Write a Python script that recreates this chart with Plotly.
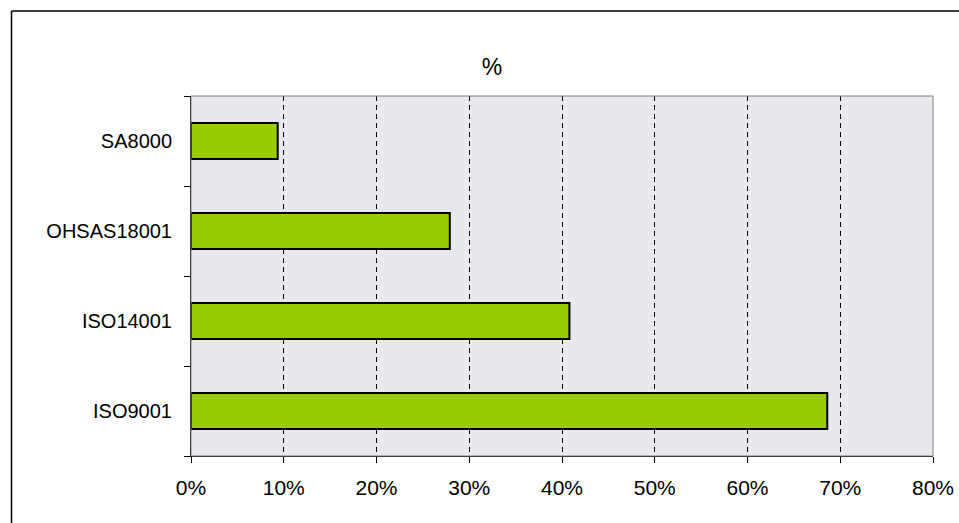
import plotly.graph_objects as go

categories = ["ISO9001", "ISO14001", "OHSAS18001", "SA8000"]
values = [68.6, 40.8, 27.9, 9.35]
x_ticks = [0, 10, 20, 30, 40, 50, 60, 70, 80]
x_tick_labels = [f"{v}%" for v in x_ticks]

W, H = 959, 523
L, R, T, B = 191, 26, 96, 67
pw, ph = W - L - R, H - T - B

def px_x(p):
    return (p - L) / pw

def px_y(p):
    return (H - B - p) / ph

fig = go.Figure()
fig.add_trace(go.Bar(
    y=categories, x=values, orientation="h",
    width=0.4,
    marker=dict(color="#99CC00", line=dict(color="#000000", width=2)),
    hoverinfo="x+y",
))

fig.update_layout(
    width=W, height=H,
    margin=dict(l=L, r=R, t=T, b=B, autoexpand=False),
    paper_bgcolor="#FFFFFF",
    plot_bgcolor="#E8E9EC",
    showlegend=False,
    font=dict(family="Liberation Sans, Arial, sans-serif", color="#000000"),
    title=dict(text="%", x=492 / W, xref="container", xanchor="center",
               y=1 - 67 / H, yref="container", yanchor="middle",
               font=dict(size=23, color="#000000")),
    xaxis=dict(
        range=[0, 80], tickvals=x_ticks, ticktext=x_tick_labels,
        showgrid=True, gridcolor="#000000", gridwidth=1, griddash="5px,4px",
        showline=True, linecolor="#000000", linewidth=1,
        ticks="outside", ticklen=6, tickcolor="#000000",
        tickfont=dict(size=21), ticklabelstandoff=7,
        zeroline=False, fixedrange=True,
    ),
    yaxis=dict(
        type="category", categoryorder="array", categoryarray=categories,
        range=[-0.5, 3.5],
        showgrid=False, showline=True, linecolor="#000000", linewidth=1,
        ticks="outside", ticklen=6, tickcolor="#000000", tickson="boundaries",
        tickfont=dict(size=20), ticklabelstandoff=14,
        zeroline=False, fixedrange=True,
    ),
    shapes=[
        # plot area border (top/right grey)
        dict(type="rect", xref="paper", yref="paper", x0=0, x1=1, y0=0, y1=1,
             line=dict(color="#808080", width=1), fillcolor="rgba(0,0,0,0)", layer="above"),
        # outer chart border: top and left edges (others lie outside the picture)
        dict(type="line", xref="paper", yref="paper",
             x0=px_x(11.5), x1=px_x(965), y0=px_y(11), y1=px_y(11),
             line=dict(color="#000000", width=1.5)),
        dict(type="line", xref="paper", yref="paper",
             x0=px_x(11.5), x1=px_x(11.5), y0=px_y(11), y1=px_y(530),
             line=dict(color="#000000", width=1.5)),
    ],
)

fig.write_html("out.html", config={"displayModeBar": False},
               post_script="document.body.style.margin='0';")
